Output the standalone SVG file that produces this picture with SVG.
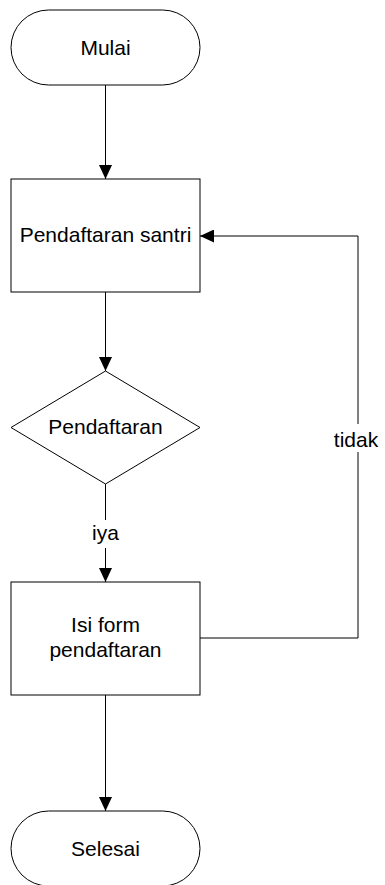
<svg xmlns="http://www.w3.org/2000/svg" width="385" height="885" viewBox="0 0 385 885">
<style>
.shape{fill:#fff;stroke:#000;stroke-width:1}
.conn{fill:none;stroke:#000;stroke-width:1}
text{font-family:"Liberation Sans",Arial,sans-serif;font-size:21px;fill:#000;text-anchor:middle}
.lblbg{fill:#fff;stroke:none}
</style>
<defs>
<marker id="arr" markerUnits="userSpaceOnUse" markerWidth="14" markerHeight="13" refX="14" refY="6.5" orient="auto">
<path d="M0,0 L14,6.5 L0,13 Z" fill="#000"/>
</marker>
</defs>
<g id="connectors">
<path class="conn" d="M105.5,85 L105.5,179" marker-end="url(#arr)"/>
<path class="conn" d="M105.5,292 L105.5,371" marker-end="url(#arr)"/>
<path class="conn" d="M105.5,484 L105.5,582" marker-end="url(#arr)"/>
<path class="conn" d="M105.5,695 L105.5,811" marker-end="url(#arr)"/>
<path class="conn" d="M200,638 L358,638 L358,236 L200,236" marker-end="url(#arr)"/>
<rect class="lblbg" x="333" y="424" width="46" height="28"/>
<text x="356" y="447">tidak</text>
<rect class="lblbg" x="90" y="520" width="31" height="28"/>
<text x="105.5" y="540">iya</text>
</g>
<g id="mulai">
<rect class="shape" x="11" y="10" width="189" height="75" rx="37.5" ry="37.5"/>
<text x="105.5" y="55">Mulai</text>
</g>
<g id="pendaftaran-santri">
<rect class="shape" x="11" y="179" width="189" height="113"/>
<text x="105.5" y="242">Pendaftaran santri</text>
</g>
<g id="pendaftaran-decision">
<polygon class="shape" points="105.5,371 200,427.5 105.5,484 11,427.5"/>
<text x="105.5" y="434">Pendaftaran</text>
</g>
<g id="isi-form">
<rect class="shape" x="11" y="582" width="189" height="113"/>
<text x="105.5" y="632">Isi form</text>
<text x="105.5" y="657">pendaftaran</text>
</g>
<g id="selesai">
<rect class="shape" x="11" y="811" width="189" height="75" rx="37.5" ry="37.5"/>
<text x="105.5" y="856">Selesai</text>
</g>
</svg>
